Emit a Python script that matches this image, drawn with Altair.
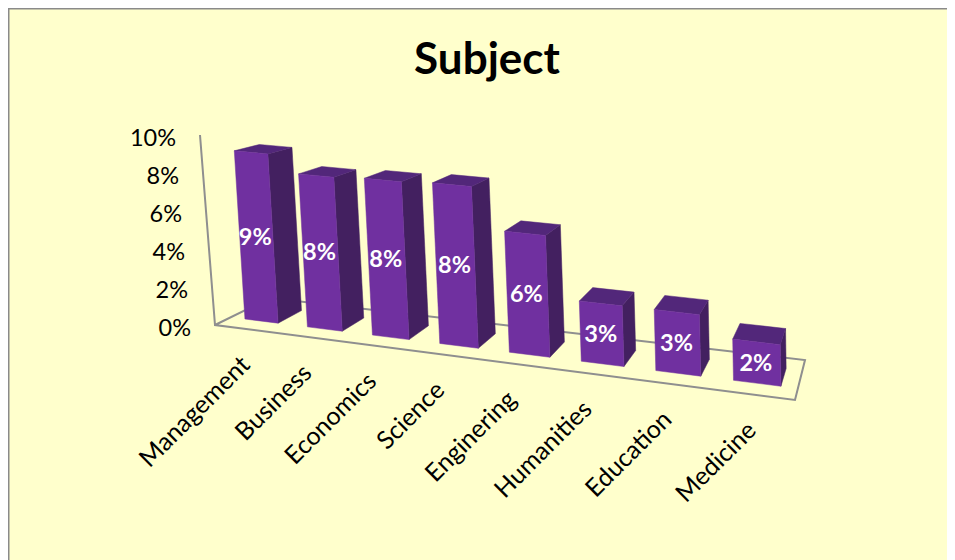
import altair as alt
import numpy as np
import pandas as pd

subjects = ["Management", "Business", "Economics", "Science", "Enginering", "Humanities", "Education", "Medicine"]
values = [8.9, 8.0, 8.1, 8.2, 6.1, 3.0, 3.0, 2.0]
labels = ["9%", "8%", "8%", "8%", "6%", "3%", "3%", "2%"]
ticks = [0, 2, 4, 6, 8, 10]

W, H = 939, 552
OFF = 8
FLOOR = {"fl": (215, 325), "fr": (795, 400), "br": (805, 360), "bl": (270, 298)}
AXIS_TOP = (200, 135)


def homography(fl, fr, br, bl):
    src = [(0, 0), (1, 0), (1, 1), (0, 1)]
    dst = [fl, fr, br, bl]
    A, b = [], []
    for (u, v), (x, y) in zip(src, dst):
        A.append([u, v, 1, 0, 0, 0, -u * x, -v * x])
        A.append([0, 0, 0, u, v, 1, -u * y, -v * y])
        b += [x, y]
    return np.append(np.linalg.solve(np.array(A, float), np.array(b, float)), 1).reshape(3, 3)


HM = homography(FLOOR["fl"], FLOOR["fr"], FLOOR["br"], FLOOR["bl"])


def floor(u, v):
    p = HM @ np.array([u, v, 1.0])
    return p[0] / p[2], p[1] / p[2]


def lift(p, val, depth=1.0):
    x, y = p
    s = (18.8 + (x - 215) * 0.0035) * depth
    lean = -0.066 + (x - 215) * 0.00009
    h = s * val
    return x + lean * h, y - h


BAR = 0.56
V0, V1 = 0.27, 0.72
BACK = 0.96
faces, texts = [], []
for i, (name, val) in enumerate(zip(subjects, values)):
    centre = (i + 0.5) / 8
    centre += 0.015 * np.sin(np.pi * centre)
    u0 = centre - BAR / 16
    u1 = centre + BAR / 16
    a, b = floor(u0, V0), floor(u1, V0)
    c, d = floor(u1, V1), floor(u0, V1)
    ta, tb = lift(a, val), lift(b, val)
    tc, td = lift(c, val, BACK), lift(d, val, BACK)
    polys = [("side", [b, c, tc, tb]), ("top", [ta, tb, tc, td]), ("front", [a, b, tb, ta])]
    for kind, pts in polys:
        for k, (x, y) in enumerate(pts + [pts[0]]):
            faces.append({"id": f"{i}-{kind}", "face": kind, "k": k, "x": x - OFF, "y": y - OFF})
    texts.append({"x": (a[0] + b[0] + ta[0] + tb[0]) / 4 - OFF - 1, "y": (a[1] + b[1] + ta[1] + tb[1]) / 4 - OFF + 1,
                  "t": labels[i]})

cats = []
for i, name in enumerate(subjects):
    p = floor((i + 0.5) / 8, 0)
    cats.append({"x": p[0] - OFF + 1, "y": p[1] - OFF + 32, "t": name})

tick_rows = []
for t in ticks:
    f = t / 10
    ax = FLOOR["fl"][0] + (AXIS_TOP[0] - FLOOR["fl"][0]) * f
    ay = FLOOR["fl"][1] + (AXIS_TOP[1] - FLOOR["fl"][1]) * f
    tick_rows.append({"x": ax - 24 - OFF, "y": ay + 4 - OFF, "t": f"{t}%"})

fl, fr, br, bl = FLOOR["fl"], FLOOR["fr"], FLOOR["br"], FLOOR["bl"]
frame_pts = [AXIS_TOP, fl, fr, br, bl, fl]
frame = pd.DataFrame([{"k": k, "x": p[0] - OFF, "y": p[1] - OFF} for k, p in enumerate(frame_pts)])
border = pd.DataFrame([{"k": 0, "x": W, "y": 0.5}, {"k": 1, "x": 0.5, "y": 0.5}, {"k": 2, "x": 0.5, "y": H}])

X = alt.X("x:Q", scale=alt.Scale(domain=[0, W], nice=False, zero=False), axis=None)
Y = alt.Y("y:Q", scale=alt.Scale(domain=[H, 0], nice=False, zero=False), axis=None)

border_l = alt.Chart(border).mark_line(color="#8a8a8a", strokeWidth=2, clip=False).encode(x=X, y=Y, order="k:Q")
frame_l = alt.Chart(frame).mark_line(color="#8f8f8f", strokeWidth=2).encode(x=X, y=Y, order="k:Q")
face_scale = alt.Scale(domain=["front", "side", "top"], range=["#7030A0", "#432060", "#52277A"])
faces_l = alt.Chart(pd.DataFrame(faces)).mark_line(strokeWidth=0.5).encode(
    x=X, y=Y, order="k:Q", detail="id:N",
    fill=alt.Fill("face:N", scale=face_scale, legend=None),
    stroke=alt.Stroke("face:N", scale=face_scale, legend=None),
)
data_l = alt.Chart(pd.DataFrame(texts)).mark_text(font="Lato", fontSize=23.5, fontWeight="bold", color="white", align="center", baseline="middle").encode(x=X, y=Y, text="t:N")
cat_l = alt.Chart(pd.DataFrame(cats)).mark_text(font="Lato", fontSize=25, color="black", align="right", baseline="middle", angle=315).encode(x=X, y=Y, text="t:N")
tick_l = alt.Chart(pd.DataFrame(tick_rows)).mark_text(font="Lato", fontSize=23.5, color="black", align="right", baseline="middle").encode(x=X, y=Y, text="t:N")
title_l = alt.Chart(pd.DataFrame([{"x": 479, "y": 53, "t": "Subject"}])).mark_text(font="Lato", fontSize=44, fontWeight="bold", color="black", align="center", baseline="middle").encode(x=X, y=Y, text="t:N")

chart = alt.layer(border_l, frame_l, faces_l, data_l, cat_l, tick_l, title_l).properties(
    width=W, height=H, background="#FFFFCC", padding=0,
    autosize=alt.AutoSizeParams(type="none"),
).configure_view(stroke=None)

chart.save("out.html", embed_options={"renderer": "svg", "actions": False})
